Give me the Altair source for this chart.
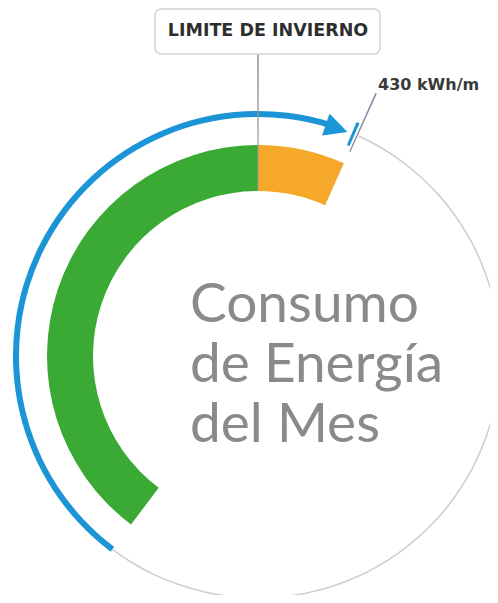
import math
import altair as alt
import pandas as pd

# ---- data (angles in degrees, 0 = 12 o'clock, clockwise) ----
bar_labels = ["Consumo dentro del límite", "Exceso sobre el límite"]
bar_start = [-143, 0]
bar_end = [0, 24]
bar_colors = ["#3aaa35", "#f6a82a"]

track_start = [24.6]      # grey remainder of the outer ring
track_end = [217]
progress_start = [-143]   # blue progress arc
progress_end = [17]
arrow_angle = [19.0]
limit_angle = [0]         # winter limit
target_angle = [23.2]     # 430 kWh/m mark
leader_angle = [24.2]
target_label = ["430 kWh/m"]
limit_label = ["LIMITE DE INVIERNO"]
title_lines = ["Consumo", "de Energía", "del Mes"]

CX, CY = 250, 348
BLUE = "#1b95d6"
theta_scale = alt.Scale(domain=[0, 360], range=[0, 2 * math.pi])


def theta(field):
    return alt.Theta(field, type="quantitative", scale=theta_scale, stack=False)


def band(df, r_in, r_out, color, half=None):
    ch = alt.Chart(df)
    if half is not None:
        ch = ch.transform_calculate(a0=f"datum.a - {half}", a1=f"datum.a + {half}")
    return ch.mark_arc(innerRadius=r_in, outerRadius=r_out, color=color).encode(
        theta=theta("a0"), theta2="a1:Q", x=alt.value(CX), y=alt.value(CY)
    )


track = band(pd.DataFrame({"a0": track_start, "a1": track_end}), 241.2, 242.8, "#cfcfcf")
progress = band(pd.DataFrame({"a0": progress_start, "a1": progress_end}), 239, 245, BLUE)

bars_df = pd.DataFrame({"label": bar_labels, "a0": bar_start, "a1": bar_end, "c": bar_colors})
bars = alt.Chart(bars_df).mark_arc(innerRadius=165, outerRadius=211).encode(
    theta=theta("a0"), theta2="a1:Q",
    color=alt.Color("c:N", scale=None),
    x=alt.value(CX), y=alt.value(CY),
)

limit_line = band(pd.DataFrame({"a": limit_angle}), 165, 303, "#9a9a9a", half=0.16)
leader = band(pd.DataFrame({"a": leader_angle}), 224, 288, "#8c8ca6", half=0.17)
tick = band(pd.DataFrame({"a": target_angle}), 229, 254, BLUE, half=0.36)

arrow = alt.Chart(pd.DataFrame({"a": arrow_angle})).mark_text(
    text="▶", radius=242, fontSize=30, font="DejaVu Sans", color=BLUE,
    align="center", baseline="middle",
).encode(theta=theta("a"), angle=alt.Angle("a:Q", scale=None),
         x=alt.value(CX), y=alt.value(CY))

box = alt.Chart(pd.DataFrame({"label": limit_label})).mark_rect(
    cornerRadius=6, fill="white", stroke="#d2d2d2", strokeWidth=1.5
).encode(x=alt.value(147), x2=alt.value(372), y=alt.value(1), y2=alt.value(46))

box_text = alt.Chart(pd.DataFrame({"label": limit_label})).mark_text(
    font="DejaVu Sans", fontWeight="bold", fontSize=17.5, color="#2e2e2e",
    align="center", baseline="alphabetic",
).encode(text="label:N", x=alt.value(260), y=alt.value(28))

target_text = alt.Chart(pd.DataFrame({"label": target_label})).mark_text(
    font="DejaVu Sans", fontWeight="bold", fontSize=16, color="#3a3a3a",
    align="left", baseline="alphabetic",
).encode(text="label:N", x=alt.value(370), y=alt.value(82))

title = alt.Chart(pd.DataFrame({"t": ["\n".join(title_lines)]})).mark_text(
    font="Lato", fontSize=55, color="#8a8a8a", align="left",
    baseline="alphabetic", lineBreak="\n", lineHeight=60,
).encode(text="t:N", x=alt.value(182), y=alt.value(314))

chart = alt.layer(
    track, progress, bars, limit_line, leader, tick, arrow, box, box_text, target_text, title
).properties(
    width=482, height=587, autosize=alt.AutoSizeParams(type="none"), padding=0
).configure_view(strokeWidth=0)

chart.save("out.html", embed_options={"renderer": "svg", "actions": False})
